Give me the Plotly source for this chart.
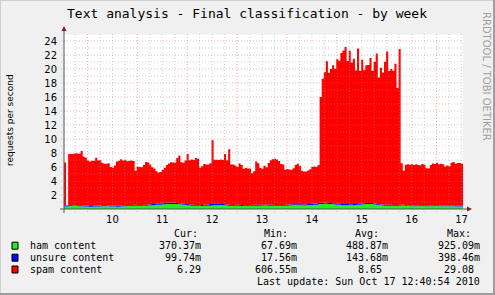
import plotly.graph_objects as go
import pandas as pd

# ---------------- data (hourly, starting at graph start) ----------------
start = pd.Timestamp("2010-10-09 12:40:54")
end = pd.Timestamp("2010-10-17 12:40:54")

ham = [
    0.35, 0.35, 0.40, 0.42, 0.45, 0.45, 0.42, 0.40, 0.38, 0.35, 0.35, 0.35, 0.33, 0.33, 0.35, 0.35, 0.35, 0.35, 0.38, 0.40, 0.40, 0.38, 0.35, 0.35,
    0.35, 0.33, 0.33, 0.35, 0.38, 0.40, 0.40, 0.42, 0.45, 0.45, 0.45, 0.45, 0.42, 0.42, 0.45, 0.48, 0.50, 0.50, 0.55, 0.55, 0.60, 0.60, 0.62, 0.65,
    0.68, 0.70, 0.72, 0.72, 0.70, 0.72, 0.70, 0.68, 0.65, 0.62, 0.60, 0.55, 0.50, 0.48, 0.45, 0.45, 0.45, 0.42, 0.42, 0.45, 0.45, 0.45, 0.48, 0.50,
    0.55, 0.55, 0.58, 0.58, 0.55, 0.52, 0.50, 0.48, 0.45, 0.45, 0.45, 0.45, 0.45, 0.42, 0.42, 0.45, 0.45, 0.45, 0.45, 0.45, 0.45, 0.48, 0.48, 0.48,
    0.50, 0.50, 0.48, 0.48, 0.45, 0.45, 0.45, 0.42, 0.42, 0.45, 0.45, 0.48, 0.50, 0.50, 0.52, 0.55, 0.55, 0.55, 0.52, 0.50, 0.50, 0.52, 0.55, 0.58,
    0.60, 0.62, 0.65, 0.70, 0.72, 0.75, 0.75, 0.72, 0.70, 0.68, 0.65, 0.62, 0.60, 0.58, 0.55, 0.55, 0.55, 0.52, 0.52, 0.55, 0.58, 0.60, 0.62, 0.65,
    0.68, 0.70, 0.72, 0.72, 0.70, 0.65, 0.60, 0.55, 0.52, 0.50, 0.48, 0.45, 0.45, 0.45, 0.42, 0.42, 0.45, 0.48, 0.50, 0.50, 0.48, 0.45, 0.42, 0.40,
    0.38, 0.38, 0.40, 0.42, 0.42, 0.40, 0.40, 0.38, 0.38, 0.40, 0.42, 0.42, 0.40, 0.38, 0.38, 0.38, 0.40, 0.40, 0.38, 0.38, 0.37, 0.37, 0.37, 0.37,
]

unsure = [
    0.15, 0.15, 0.12, 0.12, 0.10, 0.10, 0.12, 0.15, 0.15, 0.15, 0.12, 0.12, 0.10, 0.10, 0.10, 0.12, 0.12, 0.15, 0.15, 0.12, 0.12, 0.10, 0.10, 0.10,
    0.10, 0.12, 0.12, 0.15, 0.15, 0.15, 0.12, 0.12, 0.12, 0.15, 0.15, 0.12, 0.12, 0.10, 0.10, 0.12, 0.15, 0.15, 0.18, 0.18, 0.20, 0.20, 0.18, 0.18,
    0.20, 0.22, 0.22, 0.20, 0.18, 0.18, 0.15, 0.15, 0.12, 0.12, 0.12, 0.15, 0.15, 0.15, 0.15, 0.12, 0.12, 0.12, 0.15, 0.18, 0.20, 0.20, 0.22, 0.22,
    0.20, 0.18, 0.18, 0.15, 0.15, 0.15, 0.12, 0.12, 0.12, 0.12, 0.15, 0.15, 0.15, 0.15, 0.12, 0.12, 0.12, 0.12, 0.15, 0.15, 0.15, 0.12, 0.12, 0.12,
    0.12, 0.12, 0.15, 0.15, 0.15, 0.12, 0.12, 0.12, 0.12, 0.12, 0.15, 0.15, 0.15, 0.15, 0.15, 0.12, 0.12, 0.12, 0.15, 0.15, 0.15, 0.18, 0.18, 0.18,
    0.18, 0.18, 0.20, 0.20, 0.18, 0.18, 0.15, 0.15, 0.15, 0.15, 0.18, 0.18, 0.18, 0.15, 0.15, 0.15, 0.15, 0.15, 0.15, 0.15, 0.12, 0.12, 0.12, 0.12,
    0.15, 0.15, 0.15, 0.15, 0.15, 0.15, 0.12, 0.12, 0.12, 0.15, 0.15, 0.15, 0.15, 0.15, 0.12, 0.12, 0.12, 0.12, 0.12, 0.10, 0.10, 0.10, 0.10, 0.10,
    0.10, 0.10, 0.10, 0.12, 0.12, 0.12, 0.12, 0.12, 0.12, 0.10, 0.10, 0.10, 0.10, 0.10, 0.10, 0.10, 0.10, 0.12, 0.12, 0.12, 0.10, 0.10, 0.10, 0.10,
]

spam = [
    6.15, 0.00, 7.35, 7.30, 7.30, 7.40, 7.40, 7.35, 7.75, 6.95, 6.85, 6.45, 6.35, 6.45, 6.45, 6.85, 6.45, 6.45, 6.05, 5.95, 5.95, 6.05, 5.55, 5.45,
    5.75, 6.35, 6.45, 6.60, 6.40, 6.50, 6.30, 6.35, 6.35, 6.25, 4.85, 5.45, 5.45, 5.45, 5.75, 6.10, 6.00, 5.70, 5.25, 5.05, 4.60, 4.40, 4.50, 4.75,
    5.00, 5.35, 5.55, 5.75, 5.75, 5.75, 6.45, 6.80, 5.90, 5.85, 6.20, 7.15, 6.30, 6.45, 6.40, 6.70, 6.60, 5.35, 5.55, 5.80, 5.70, 5.70, 5.85, 9.10,
    6.30, 6.30, 6.25, 6.35, 6.30, 7.20, 6.35, 7.95, 5.80, 5.80, 5.60, 5.40, 5.90, 5.70, 5.20, 5.30, 5.20, 5.20, 4.50, 4.80, 6.20, 5.95, 5.25, 5.15,
    5.55, 5.35, 5.95, 6.35, 6.50, 6.60, 6.50, 6.30, 5.90, 5.80, 5.00, 5.10, 5.00, 4.95, 5.15, 5.60, 5.80, 5.50, 4.80, 4.70, 4.70, 4.80, 4.95, 5.25,
    5.30, 5.20, 5.45, 15.10, 17.70, 18.60, 20.20, 18.60, 19.15, 19.70, 19.20, 20.60, 20.40, 21.55, 21.95, 22.45, 20.45, 21.95, 20.25, 20.75, 19.10, 22.20, 19.00, 20.55,
    19.00, 19.70, 19.70, 20.70, 18.90, 20.25, 21.50, 18.10, 19.55, 18.85, 20.40, 21.90, 19.10, 19.40, 19.20, 20.20, 16.70, 22.25, 5.90, 4.85, 5.75, 5.85, 5.80, 5.90,
    5.80, 5.90, 5.80, 5.70, 5.90, 5.80, 5.30, 5.30, 5.80, 6.00, 5.90, 6.10, 5.90, 6.00, 5.90, 5.60, 5.70, 5.60, 6.10, 6.20, 6.00, 6.10, 6.10, 6.00,
]

day_labels = ["10", "11", "12", "13", "14", "15", "16", "17"]
y_ticks = [2, 4, 6, 8, 10, 12, 14, 16, 18, 20, 22, 24]

legend_rows = [
    ("ham content", "#22EE22", ["370.37m", "67.69m", "488.87m", "925.09m"]),
    ("unsure content", "#0000FF", ["99.74m", "17.56m", "143.68m", "398.46m"]),
    ("spam content", "#FF0000", ["6.29", "606.55m", "8.65 ", "29.08 "]),
]
col_heads = ["Cur:", "Min:", "Avg:", "Max:"]
last_update = "Last update: Sun Oct 17 12:40:54 2010"
title = "Text analysis - Final classification - by week"

# ---------------- geometry helpers (pixels -> paper) ----------------
W, H = 495, 295
PL, PR, PT, PB = 64, 463, 34, 209


def X(p):
    return (p - PL) / (PR - PL)


def Y(p):
    return (PB - p) / (PB - PT)


MONO = "DejaVu Sans Mono"
SANS = "DejaVu Sans"

times = list(pd.date_range(start, periods=len(spam) + 1, freq="1h"))

fig = go.Figure()
for name, vals, col in [("ham", ham, "#22EE22"), ("unsure", unsure, "#0000FF"), ("spam", spam, "#FF0000")]:
    fig.add_trace(go.Scatter(
        x=times, y=list(vals) + [vals[-1]], mode="lines", stackgroup="one",
        line=dict(width=0, shape="hv", color=col), fillcolor=col,
        name=name, hoverinfo="skip",
    ))

shapes = []
GRID = "rgba(150,150,150,0.45)"
MGRID = "rgba(222,80,80,0.45)"
DASH = "1px,2px"
# horizontal grid
for v in range(1, 26):
    shapes.append(dict(type="line", xref="paper", yref="y", x0=X(61), x1=1, y0=v, y1=v,
                       line=dict(color=MGRID if v % 2 == 0 else GRID, width=1, dash=DASH), layer="above"))
# vertical grid
for t in pd.date_range("2010-10-09 18:00", "2010-10-17 12:00", freq="6h"):
    major = t.hour == 0
    shapes.append(dict(type="line", xref="x", yref="paper", x0=t, x1=t, y0=Y(212), y1=1,
                       line=dict(color=MGRID if major else GRID, width=1, dash=DASH), layer="above"))
AX = "#555555"
ARROW = "#7F1F1F"
shapes.append(dict(type="line", xref="paper", yref="paper", x0=X(64), x1=X(64), y0=Y(213), y1=Y(30),
                   line=dict(color=AX, width=1), layer="above"))
shapes.append(dict(type="line", xref="paper", yref="paper", x0=X(60), x1=X(467), y0=Y(209), y1=Y(209),
                   line=dict(color=AX, width=1), layer="above"))
shapes.append(dict(type="path", xref="paper", yref="paper",
                   path=f"M {X(64)} {Y(26)} L {X(61.5)} {Y(31)} L {X(66.5)} {Y(31)} Z",
                   fillcolor=ARROW, line=dict(width=0), layer="above"))
shapes.append(dict(type="path", xref="paper", yref="paper",
                   path=f"M {X(472)} {Y(209)} L {X(467)} {Y(206.5)} L {X(467)} {Y(211.5)} Z",
                   fillcolor=ARROW, line=dict(width=0), layer="above"))
# frame
shapes.append(dict(type="line", xref="paper", yref="paper", x0=X(0), x1=X(495), y0=Y(0.5), y1=Y(0.5),
                   line=dict(color="#CFCFCF", width=1), layer="above"))
shapes.append(dict(type="line", xref="paper", yref="paper", x0=X(0.5), x1=X(0.5), y0=Y(0), y1=Y(295),
                   line=dict(color="#CFCFCF", width=1), layer="above"))
shapes.append(dict(type="line", xref="paper", yref="paper", x0=X(0), x1=X(495), y0=Y(294), y1=Y(294),
                   line=dict(color="#9E9E9E", width=2), layer="above"))
shapes.append(dict(type="line", xref="paper", yref="paper", x0=X(494), x1=X(494), y0=Y(0), y1=Y(295),
                   line=dict(color="#9E9E9E", width=2), layer="above"))

annotations = []


def ann(text, px, py, xanchor="left", size=10, color="black", angle=0, family=MONO):
    annotations.append(dict(text=text, x=X(px), y=Y(py), xref="paper", yref="paper",
                            xanchor=xanchor, yanchor="middle", showarrow=False, textangle=angle,
                            font=dict(family=family, size=size, color=color)))


ann(title, 247, 13.5, xanchor="center", size=13)
ann("RRDTOOL / TOBI OETIKER", 487, 76, xanchor="center", size=10, color="#A0A0A0", angle=90, family=SANS)
ann("requests per second", 10, 120, xanchor="center", size=9, angle=-90, family=SANS)

head_x = [171.7, 262.3, 353.3, 445]
for h, hx in zip(col_heads, head_x):
    ann(h, hx, 233)
col_right = [202.5, 298.5, 389.5, 481.5]
row_y = [245.7, 257.7, 269.5]
for (label, col, vals), ry in zip(legend_rows, row_y):
    shapes.append(dict(type="rect", xref="paper", yref="paper", x0=X(12), x1=X(18), y0=Y(ry - 3.5), y1=Y(ry + 3.5),
                       fillcolor=col, line=dict(color="black", width=1), layer="above"))
    ann(label, 28, ry)
    for v, cr in zip(vals, col_right):
        ann(v.replace(" ", "\u00a0"), cr, ry, xanchor="right")
ann(last_update, 481.5, 281.5, xanchor="right")

fig.update_layout(
    width=W, height=H,
    margin=dict(l=PL, r=W - PR, t=PT, b=H - PB, pad=0),
    paper_bgcolor="#F0F0F0", plot_bgcolor="#FFFFFF",
    showlegend=False,
    shapes=shapes, annotations=annotations,
    xaxis=dict(type="date", range=[start, end], showgrid=False, zeroline=False, showline=False,
               tickvals=list(pd.date_range("2010-10-10 12:00", periods=len(day_labels), freq="1D")),
               ticktext=day_labels, ticks="", ticklabelstandoff=3,
               tickfont=dict(family=SANS, size=10, color="black")),
    yaxis=dict(range=[0, 25], showgrid=False, zeroline=False, showline=False,
               tickvals=y_ticks, ticktext=[str(v) for v in y_ticks], ticks="", ticklabelstandoff=6,
               tickfont=dict(family=SANS, size=10, color="black")),
)

fig.write_html("out.html", config={"displayModeBar": False})
